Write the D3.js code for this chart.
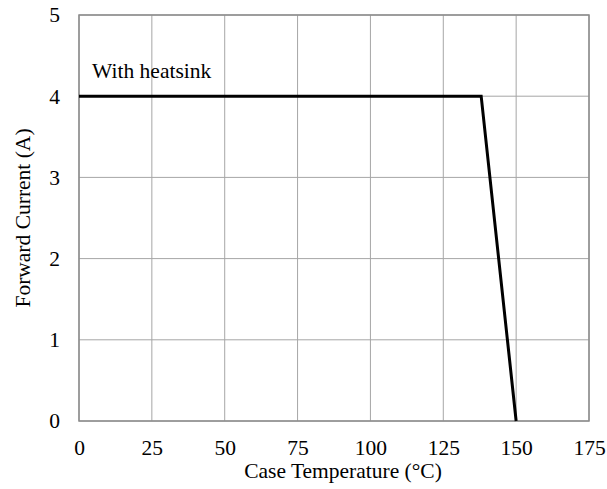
<!DOCTYPE html>
<html>
<head>
<meta charset="utf-8">
<script src="https://cdn.jsdelivr.net/npm/d3@7"></script>
<style>
  body { margin: 0; background: #fff; }
</style>
</head>
<body>
<div id="chart"></div>
<script>
// derating curve points (case temp in °C, forward current in A)
const temps = [0, 138, 150];
const currents = [4, 4, 0];
const xTicks = [0, 25, 50, 75, 100, 125, 150, 175];
const yTicks = [0, 1, 2, 3, 4, 5];
const seriesLabel = "With heatsink";

const W = 607, H = 489;
const margin = {top: 15, right: 18, bottom: 68, left: 79};
const width = W - margin.left - margin.right;
const height = H - margin.top - margin.bottom;
const FONT = '"Liberation Serif"';
const FS = "21.5px";

const svg = d3.select("#chart").append("svg")
  .attr("width", W)
  .attr("height", H);

const g = svg.append("g")
  .attr("transform", `translate(${margin.left},${margin.top})`);

const x = d3.scaleLinear().domain([0, 175]).range([0, width]);
const y = d3.scaleLinear().domain([0, 5]).range([height, 0]);

// grid lines
g.selectAll(".vgrid")
  .data(xTicks)
  .join("line")
  .attr("x1", d => x(d)).attr("x2", d => x(d))
  .attr("y1", 0).attr("y2", height)
  .attr("stroke", "#a6a6a6").attr("stroke-width", 1);

g.selectAll(".hgrid")
  .data(yTicks)
  .join("line")
  .attr("y1", d => y(d)).attr("y2", d => y(d))
  .attr("x1", 0).attr("x2", width)
  .attr("stroke", "#a6a6a6").attr("stroke-width", 1);

// plot border
g.append("rect")
  .attr("width", width).attr("height", height)
  .attr("fill", "none")
  .attr("stroke", "#8c8c8c").attr("stroke-width", 1.5);

// axes (labels only)
const xAxis = g.append("g")
  .attr("transform", `translate(0,${height})`)
  .call(d3.axisBottom(x).tickValues(xTicks).tickFormat(d3.format("d")).tickSize(0).tickPadding(19));
xAxis.select(".domain").remove();
xAxis.selectAll("text")
  .attr("fill", "#000")
  .style("font-family", FONT).style("font-size", FS);

const yAxis = g.append("g")
  .call(d3.axisLeft(y).tickValues(yTicks).tickFormat(d3.format("d")).tickSize(0).tickPadding(19));
yAxis.select(".domain").remove();
yAxis.selectAll("text")
  .attr("fill", "#000")
  .style("font-family", FONT).style("font-size", FS);

// curve
const line = d3.line()
  .x((d, i) => x(temps[i]))
  .y(d => y(d));

g.append("path")
  .datum(currents)
  .attr("fill", "none")
  .attr("stroke", "#000")
  .attr("stroke-width", 3)
  .attr("d", line);

g.append("text")
  .attr("x", x(4.5))
  .attr("y", y(4) - 18)
  .style("font-family", FONT).style("font-size", FS)
  .text(seriesLabel);

// axis titles
svg.append("text")
  .attr("x", 343)
  .attr("y", H - 11)
  .attr("text-anchor", "middle")
  .style("font-family", FONT).style("font-size", FS)
  .text("Case Temperature (°C)");

svg.append("text")
  .attr("transform", `translate(30,${margin.top + height / 2}) rotate(-90)`)
  .attr("text-anchor", "middle")
  .style("font-family", FONT).style("font-size", FS)
  .text("Forward Current (A)");
</script>
</body>
</html>
